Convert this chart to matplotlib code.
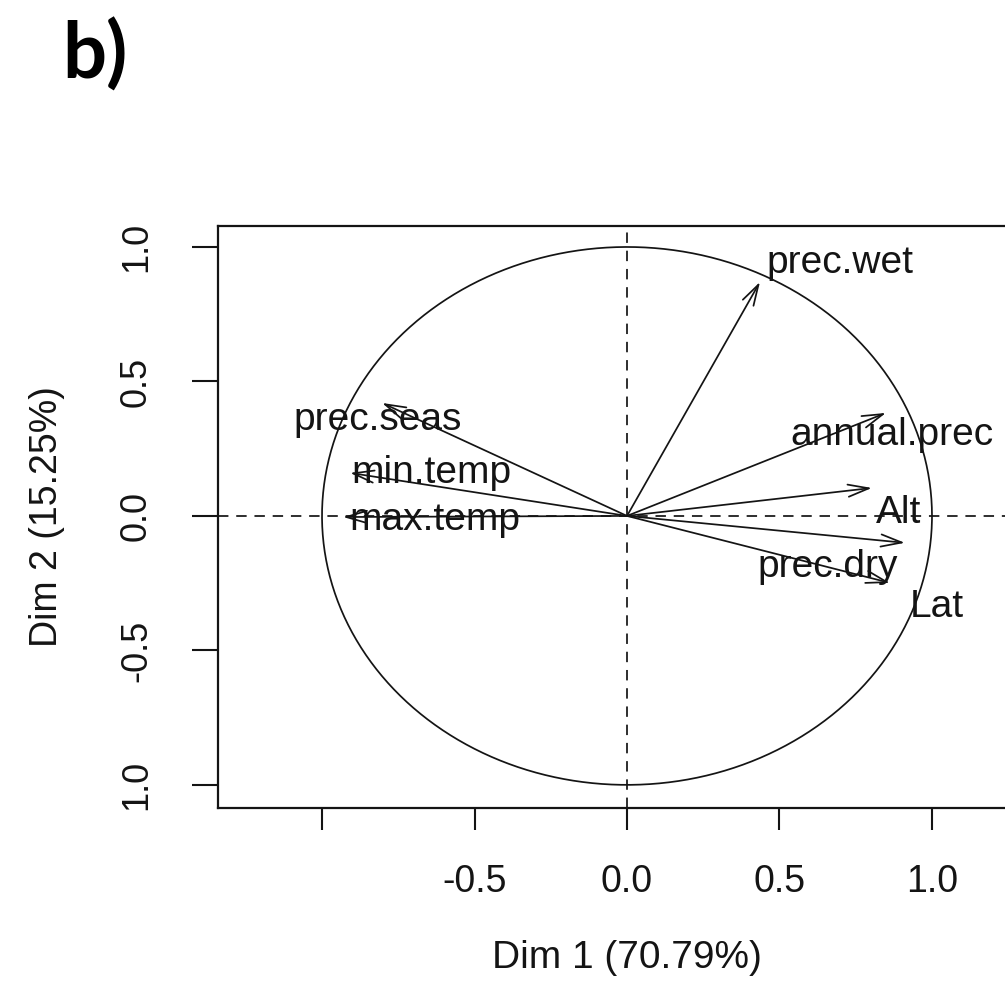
import numpy as np
import matplotlib.pyplot as plt

# variable coordinates on the first two dimensions
variables = ['prec.wet', 'annual.prec', 'Alt', 'prec.dry', 'Lat',
             'prec.seas', 'min.temp', 'max.temp']
dim1 = [0.436, 0.849, 0.803, 0.911, 0.862, -0.803, -0.908, -0.931]
dim2 = [0.870, 0.383, 0.104, -0.100, -0.249, 0.420, 0.160, -0.004]

xticks = [-1.0, -0.5, 0.0, 0.5, 1.0]
xticklabels = ['', '-0.5', '0.0', '0.5', '1.0']
yticks = [1.0, 0.5, 0.0, -0.5, -1.0]
yticklabels = ['1.0', '0.5', '0.0', '-0.5', '1.0']

xlab = 'Dim 1 (70.79%)'
ylab = 'Dim 2 (15.25%)'

# where each name sits relative to its arrow tip (data units)
label_offsets = [(0.262, 0.033), (0.020, -0.119), (0.086, -0.130),
                 (-0.252, -0.127), (0.154, -0.126), (-0.013, -0.100),
                 (0.267, -0.037), (0.300, -0.048)]

plt.rcParams['font.family'] = ['Liberation Sans', 'DejaVu Sans']
ink = '#141414'

fig = plt.figure(figsize=(10.05, 9.9), dpi=100)
fig.patch.set_facecolor('white')

# plot region runs past the right edge of the figure
ax = fig.add_axes([218 / 1005, 182 / 990, 818 / 1005, 582 / 990])
ax.set_xlim(-1.341, 1.341)
ax.set_ylim(-1.086, 1.078)

t = np.linspace(0, 2 * np.pi, 400)
ax.plot(np.cos(t), np.sin(t), color=ink, lw=1.25)

ax.axhline(0, color=ink, lw=1.25, ls=(0, (6, 4.5)))
ax.axvline(0, color=ink, lw=1.25, ls=(0, (6, 4.5)))

for name, x, y, (dx, dy) in zip(variables, dim1, dim2, label_offsets):
    ax.annotate('', xy=(x, y), xytext=(0, 0),
                arrowprops=dict(arrowstyle='->,head_length=0.75,head_width=0.22',
                                color=ink, lw=1.25, shrinkA=0, shrinkB=0,
                                mutation_scale=20))
    ax.text(x + dx, y + dy, name, ha='center', va='baseline',
            fontsize=28, color=ink)

ax.set_xticks(xticks)
ax.set_xticklabels(xticklabels)
ax.set_yticks(yticks)
ax.set_yticklabels(yticklabels, rotation=90, va='center')
ax.tick_params(axis='x', length=16, width=1.5, pad=24, labelsize=27,
               colors=ink)
ax.tick_params(axis='y', length=19, width=1.5, pad=27, labelsize=26,
               colors=ink)
for s in ax.spines.values():
    s.set_linewidth(1.6)
    s.set_color(ink)

fig.text(627 / 1005, 1 - 958 / 990, xlab, ha='center', va='center',
         fontsize=28, color=ink)
fig.text(47 / 1005, 1 - 517 / 990, ylab, ha='center', va='center',
         rotation=90, fontsize=27, color=ink)

fig.text(62 / 1005, 1 - 18 / 990, 'b)', ha='left', va='top',
         fontsize=56, fontweight='bold', family=['Lato', 'DejaVu Sans'],
         color='black')

fig.savefig('out.png', dpi=100)
